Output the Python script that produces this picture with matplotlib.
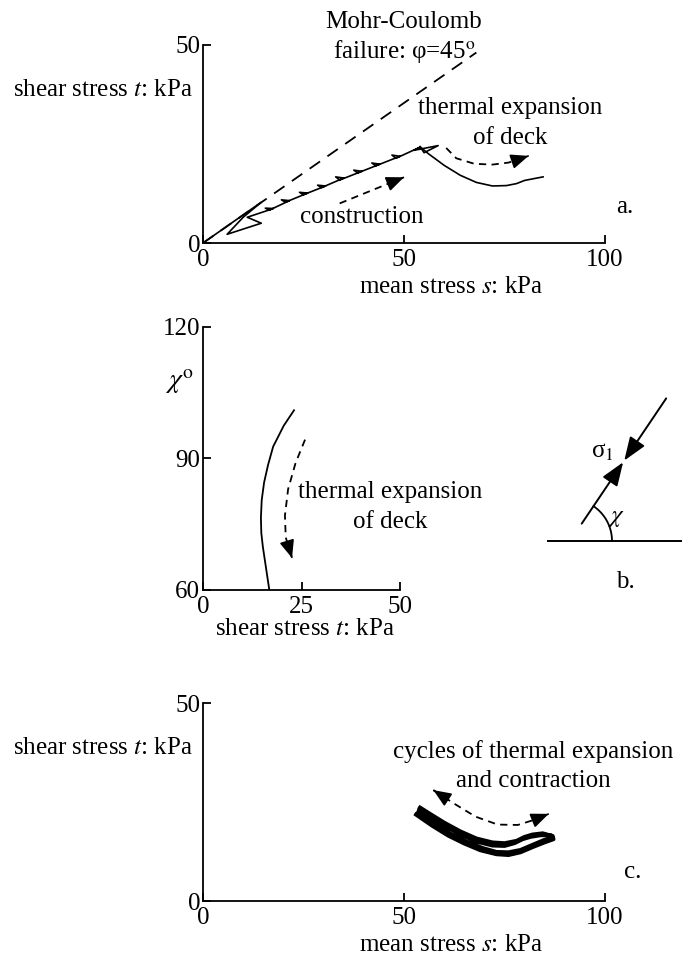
import numpy as np
import matplotlib
matplotlib.use("Agg")
import matplotlib.pyplot as plt

plt.rcParams['font.family'] = ['Liberation Serif', 'DejaVu Serif']
plt.rcParams['mathtext.fontset'] = 'stix'

FS = 18

# ---------------------------------------------------------------- data
# a. construction stress path (mean stress s, shear stress t), kPa
constr_s = [0, 14.5, 10.0, 6.0, 14.5, 11.0, 17.5, 15.5, 16.5, 21.5, 19.5, 20.5,
            26.0, 24.0, 25.0, 30.5, 28.5, 29.5, 35.0, 33.0, 34.0, 39.5, 37.5,
            38.5, 44.0, 42.0, 43.0, 49.0, 47.0, 48.0, 54.0, 52.5, 58.5, 55.0,
            54.0]
constr_t = [0, 10.3, 6.5, 2.2, 5.0, 6.5, 8.7, 8.8, 8.3, 10.7, 10.9, 10.3,
            12.6, 12.8, 12.2, 14.4, 14.6, 14.0, 16.4, 16.7, 15.9, 18.1, 18.4,
            17.7, 19.9, 20.2, 19.5, 21.9, 22.2, 21.4, 24.2, 23.4, 24.6, 22.8,
            24.3]
# a. thermal expansion of deck
therm_s = [54.0, 56.0, 60.0, 64.0, 68.0, 72.0, 75.5, 78.0, 80.0, 84.6]
therm_t = [24.3, 22.6, 19.6, 17.1, 15.3, 14.4, 14.5, 15.0, 15.8, 16.7]
# a. Mohr-Coulomb failure line, phi = 45 deg
mc_s = [0, 68.0]
mc_t = [0, 48.1]

# b. orientation of major principal stress chi (deg) vs shear stress t
b_t = [23.1, 20.5, 17.8, 16.5, 15.5, 14.9, 14.7, 14.8, 15.2, 16.0, 16.8]
b_chi = [101.0, 97.5, 92.7, 88.5, 84.5, 80.5, 76.5, 73.0, 69.8, 65.0, 60.2]

# c. cycles of thermal expansion and contraction
c_cycles_s = [
    [53.0, 57.0, 61.0, 65.0, 69.0, 73.0, 76.0, 79.0, 82.0, 85.0, 87.2,
     87.0, 84.5, 82.0, 80.0, 78.0, 75.0, 72.0, 68.0, 64.0, 60.0, 56.5, 54.0],
    [53.5, 57.5, 61.5, 65.5, 69.5, 73.0, 76.0, 79.0, 82.0, 84.8, 86.8,
     86.5, 84.0, 81.5, 79.5, 77.5, 75.0, 72.0, 68.0, 64.0, 60.0, 56.5, 53.8],
    [53.2, 57.2, 61.2, 65.2, 69.2, 73.0, 76.0, 79.0, 82.0, 84.9, 87.0,
     86.8, 84.2, 81.8, 79.8, 77.8, 75.0, 72.0, 68.0, 64.0, 60.0, 56.5, 53.9],
    [54.0, 58.0, 62.0, 66.0, 70.0, 73.5, 76.5, 79.0, 82.0, 84.5, 86.5],
]
c_cycles_t = [
    [21.8, 19.0, 16.5, 14.5, 12.8, 11.8, 11.6, 12.3, 13.6, 14.8, 15.6,
     16.4, 17.1, 16.8, 16.2, 15.2, 14.6, 14.8, 15.8, 17.6, 19.8, 22.0, 23.6],
    [22.3, 19.6, 17.0, 15.0, 13.4, 12.4, 12.3, 12.9, 14.2, 15.4, 16.0,
     16.6, 16.6, 16.2, 15.6, 14.6, 13.9, 14.0, 15.0, 16.8, 19.0, 21.3, 23.0],
    [22.0, 19.3, 16.7, 14.7, 13.1, 12.1, 11.9, 12.6, 13.9, 15.1, 15.8,
     16.5, 16.9, 16.5, 15.9, 14.9, 14.2, 14.4, 15.4, 17.2, 19.4, 21.6, 23.3],
    [22.0, 19.2, 16.6, 14.6, 13.0, 12.0, 12.0, 12.6, 13.9, 15.0, 15.8],
]

# annotation arrows (data units)
arr_constr_s = [34.0, 50.0]
arr_constr_t = [10.0, 16.6]
arr_therm_s = [60.5, 63.0, 67.5, 72.0, 76.0, 81.0]
arr_therm_t = [24.0, 21.4, 20.0, 19.8, 20.3, 22.0]
arr_b_t = [25.9, 23.5, 21.6, 20.8, 21.0, 22.6]
arr_b_chi = [94.3, 89.0, 83.0, 77.0, 72.0, 67.3]
arr_c_s = [57.3, 62.3, 67.8, 73.3, 78.3, 82.1, 86.0]
arr_c_t = [28.0, 24.7, 21.3, 19.3, 19.2, 20.4, 22.0]

# b. inset: principal stress direction
chi_angle = 56.0  # degrees


def style_axes(ax, xlim, ylim, xticks, yticks):
    ax.set_xlim(*xlim)
    ax.set_ylim(*ylim)
    ax.set_xticks(xticks)
    ax.set_yticks(yticks)
    for sp in ['top', 'right']:
        ax.spines[sp].set_visible(False)
    for sp in ['left', 'bottom']:
        ax.spines[sp].set_linewidth(1.3)
    ax.tick_params(direction='in', length=6, width=1.3, labelsize=FS, pad=2)
    ax.tick_params(axis='x', pad=4)
    ax.patch.set_visible(False)


HEAD = dict(arrowstyle='-|>,head_length=0.6,head_width=0.25', color='k', lw=1.2,
            shrinkA=0, shrinkB=0, mutation_scale=18)


def head_at(ax, tip, prev):
    tip = np.asarray(tip, float)
    prev = np.asarray(prev, float)
    ax.annotate('', xy=tip, xytext=tip - 0.03 * (tip - prev),
                arrowprops=HEAD, annotation_clip=False)


def dashed_arrow(ax, xs, ys, dash=(4, 3), heads=('end',)):
    ax.plot(xs, ys, color='k', lw=1.3, dashes=dash, clip_on=False)
    if 'end' in heads:
        head_at(ax, (xs[-1], ys[-1]), (xs[-2], ys[-2]))
    if 'start' in heads:
        head_at(ax, (xs[0], ys[0]), (xs[1], ys[1]))


fig = plt.figure(figsize=(6.83, 9.66), dpi=100)
W, H = 683.0, 966.0


def pix_axes(x0, x1, ytop, ybot):
    return fig.add_axes([x0 / W, 1 - ybot / H, (x1 - x0) / W, (ybot - ytop) / H])


# ---------------------------------------------------------------- panel a
ax = pix_axes(203, 605, 45, 243)
style_axes(ax, (0, 100), (0, 50), [0, 50, 100], [0, 50])
ax.plot(mc_s, mc_t, color='k', lw=1.3, dashes=(7, 5))
ax.plot(constr_s, constr_t, color='k', lw=1.2)
ax.plot(therm_s, therm_t, color='k', lw=1.2)
dashed_arrow(ax, arr_constr_s, arr_constr_t)
dashed_arrow(ax, arr_therm_s, arr_therm_t)
ax.text(50, 55.8, 'Mohr-Coulomb', fontsize=FS, ha='center', va='center')
ax.text(50, 48.3, 'failure: φ=45$^{\\rm o}$', fontsize=FS, ha='center', va='center')
ax.text(76.4, 34.1, 'thermal expansion', fontsize=FS, ha='center', va='center')
ax.text(76.4, 26.5, 'of deck', fontsize=FS, ha='center', va='center')
ax.text(39.5, 6.6, 'construction', fontsize=FS, ha='center', va='center')
ax.text(105, 9.1, 'a.', fontsize=FS, ha='center', va='center')
ax.text(-2.5, 38.6, 'shear stress $t$: kPa', fontsize=FS, ha='right', va='center')
ax.text(61.7, -11.1, 'mean stress $s$: kPa', fontsize=FS, ha='center', va='center')

# ---------------------------------------------------------------- panel b
ax = pix_axes(203, 400, 327, 590)
style_axes(ax, (0, 50), (60, 120), [0, 25, 50], [60, 90, 120])
ax.plot(b_t, b_chi, color='k', lw=1.3)
dashed_arrow(ax, arr_b_t, arr_b_chi)
ax.text(47.5, 82.4, 'thermal expansion', fontsize=FS, ha='center', va='center')
ax.text(47.5, 75.5, 'of deck', fontsize=FS, ha='center', va='center')
ax.text(-6.0, 107.5, '$\\chi^{\\rm o}$', fontsize=FS + 2, ha='center', va='center')
ax.text(26, 51.0, 'shear stress $t$: kPa', fontsize=FS, ha='center', va='center')

# inset sketch of principal stress direction (pixel coordinates)
ov = fig.add_axes([0, 0, 1, 1])
ov.set_xlim(0, W)
ov.set_ylim(H, 0)
ov.axis('off')
base = np.array([570.0, 541.0])
u = np.array([np.cos(np.radians(chi_angle)), -np.sin(np.radians(chi_angle))])
ov.plot([548, 681], [541, 541], color='k', lw=1.4)
p0, p1, p2, p3 = base + 21 * u, base + 95 * u, base + 97 * u, base + 172 * u
akw = dict(arrowstyle='-|>,head_length=0.8,head_width=0.3', color='k', lw=1.4,
           shrinkA=0, shrinkB=0, mutation_scale=18)
ov.annotate('', xy=p1, xytext=p0, arrowprops=akw)
ov.annotate('', xy=p2, xytext=p3, arrowprops=akw)
ang = np.radians(np.linspace(0, chi_angle, 30))
ov.plot(base[0] + 42 * np.cos(ang), base[1] - 42 * np.sin(ang), color='k', lw=1.3)
ov.text(617, 518, '$\\chi$', fontsize=FS, ha='center', va='center')
ov.text(602, 452, 'σ$_1$', fontsize=FS, ha='center', va='center')
ov.text(625, 582, 'b.', fontsize=FS, ha='center', va='center')

# ---------------------------------------------------------------- panel c
ax = pix_axes(203, 605, 703, 901)
style_axes(ax, (0, 100), (0, 50), [0, 50, 100], [0, 50])
for cs, ct in zip(c_cycles_s, c_cycles_t):
    ax.plot(cs, ct, color='k', lw=2.8, solid_joinstyle='round')
dashed_arrow(ax, arr_c_s, arr_c_t, heads=('start', 'end'))
ax.text(82.2, 37.8, 'cycles of thermal expansion', fontsize=FS, ha='center', va='center')
ax.text(82.2, 30.2, 'and contraction', fontsize=FS, ha='center', va='center')
ax.text(107, 7.3, 'c.', fontsize=FS, ha='center', va='center')
ax.text(-2.5, 38.6, 'shear stress $t$: kPa', fontsize=FS, ha='right', va='center')
ax.text(61.7, -11.1, 'mean stress $s$: kPa', fontsize=FS, ha='center', va='center')

fig.savefig('out.png', dpi=100)
